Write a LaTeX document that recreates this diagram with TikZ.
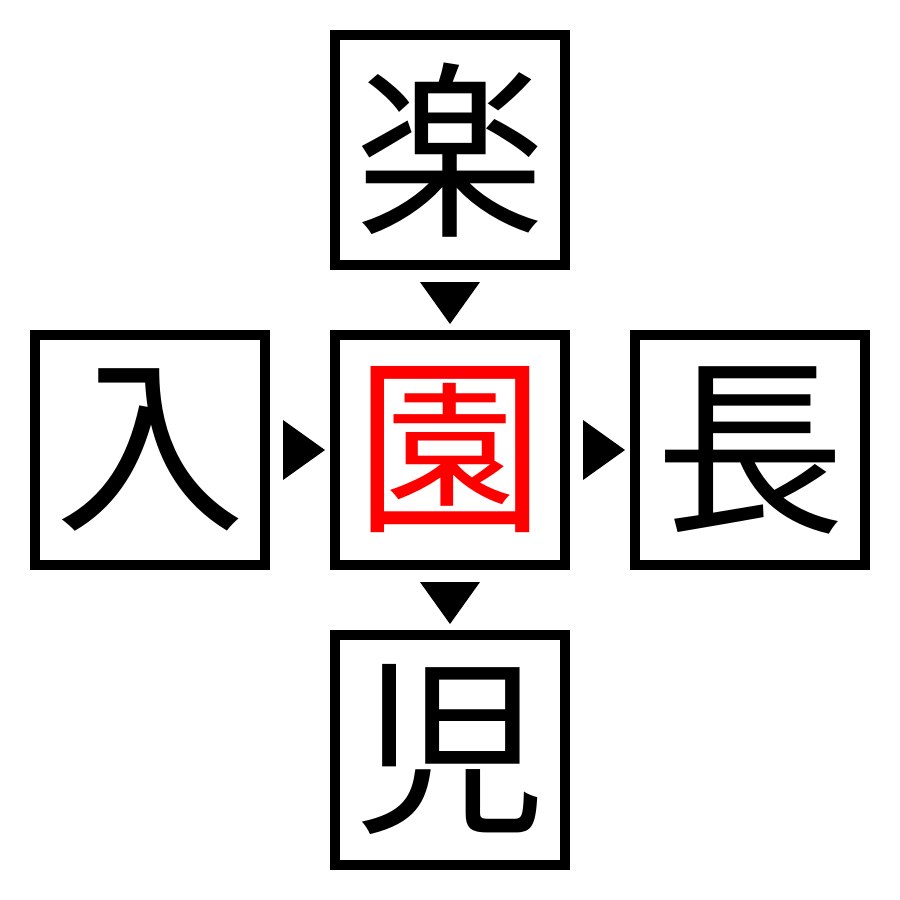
\documentclass[tikz,border=0pt]{standalone}
\usepackage{fontspec}
\newfontfamily\cjk{Noto Sans CJK JP}
\usetikzlibrary{calc}
\usetikzlibrary{positioning}

\tikzset{
  kanji/.style={draw, line width=0.1cm, minimum size=2.3cm, inner sep=0pt,
    outer sep=0pt, font=\cjk\fontsize{54}{54}\selectfont},
}

\begin{document}
\begin{tikzpicture}[%
  node distance=0.7cm,
]

  \useasboundingbox (0,0) rectangle (9,-9);

  \node[kanji, text=red] (en) at (4.5,-4.5) {園};
  \node[kanji, above=of en] (raku) {楽};
  \node[kanji, left=of en] (nyu) {入};
  \node[kanji, right=of en] (cho) {長};
  \node[kanji, below=of en] (ji) {児};

  % triangles
  \fill ($(raku.south)!0.5!(en.north)$) ++(-0.3,0.18) -- ++(0.6,0) -- ++(-0.3,-0.42) -- cycle;
  \fill ($(en.south)!0.5!(ji.north)$) ++(-0.3,0.18) -- ++(0.6,0) -- ++(-0.3,-0.42) -- cycle;
  \fill ($(nyu.east)!0.5!(en.west)$) ++(-0.17,0.3) -- ++(0,-0.6) -- ++(0.42,0.3) -- cycle;
  \fill ($(en.east)!0.5!(cho.west)$) ++(-0.17,0.3) -- ++(0,-0.6) -- ++(0.42,0.3) -- cycle;

\end{tikzpicture}
\end{document}
